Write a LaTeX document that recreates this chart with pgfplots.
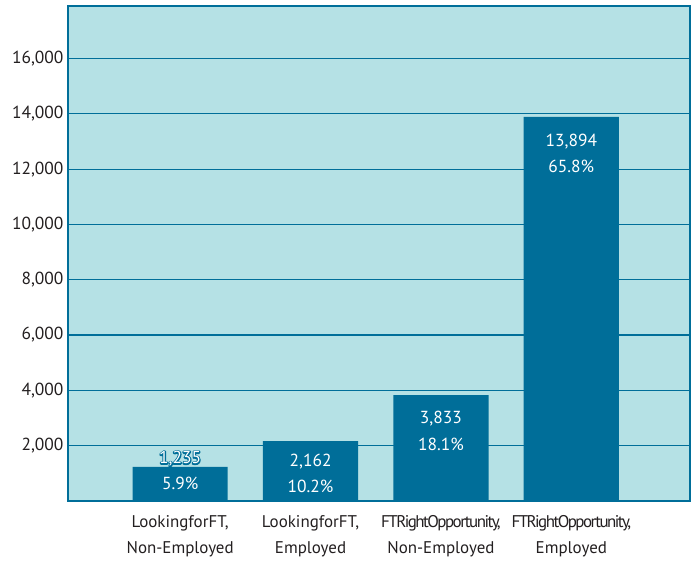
\documentclass[border=0pt]{standalone}
\usepackage{fontspec}
\setmainfont{PT Sans}
\usepackage{pgfplots}
\pgfplotsset{compat=1.18}
\usetikzlibrary{calc}
\definecolor{bg}{RGB}{181,225,229}
\definecolor{barc}{RGB}{0,110,153}
\definecolor{txt}{RGB}{35,31,32}
\newcommand{\outlined}[1]{{\color{barc}\special{pdf:literal direct 0 0.431 0.6 RG 2.4 w 1 j 1 Tr}\rlap{#1}\special{pdf:literal direct 0 Tr}}{\color{white}#1}}
\newcommand{\tight}[1]{{\addfontfeature{LetterSpace=-9}#1}}
\begin{document}
\begin{tikzpicture}
\begin{axis}[
  scale only axis, width=622bp, height=495bp,
  xmin=-0.86, xmax=3.91, ymin=0, ymax=17900,
  axis background/.style={fill=bg},
  axis line style={draw=barc, line width=2.6bp},
  ytick={2000,4000,...,16000},
  ymajorgrids, grid style={draw=barc, line width=1.2bp},
  major tick length=0pt,
  xtick={0,1,2,3},
  xticklabels={{LookingforFT,\\Non-Employed},{LookingforFT,\\Employed},{\tight{FTRightOpportunity,}\\Non-Employed},{\tight{FTRightOpportunity,}\\Employed}},
  xticklabel style={align=center, font=\fontsize{17}{26}\selectfont, text=txt, yshift=-11bp},
  yticklabel style={font=\fontsize{17.5}{20}\selectfont, text=txt, xshift=-1bp},
  /pgf/number format/assume math mode=true,
  /pgf/number format/1000 sep={,},
  scaled y ticks=false,
  clip=false,
]
\addplot[ybar, bar width=0.73, fill=barc, draw=none] coordinates {(0,1235) (1,2162) (2,3833) (3,13894)};
\node[font=\fontsize{17.5}{20}\selectfont, text=white] at (axis cs:0,1235) [yshift=8bp] {\outlined{1,235}};
\node[font=\fontsize{17.5}{20}\selectfont, text=white] at (axis cs:0,1235) [yshift=-17bp] {5.9\%};
\node[font=\fontsize{17.5}{20}\selectfont, text=white] at (axis cs:1,2162) [yshift=-20bp] {2,162};
\node[font=\fontsize{17.5}{20}\selectfont, text=white] at (axis cs:1,2162) [yshift=-45bp] {10.2\%};
\node[font=\fontsize{17.5}{20}\selectfont, text=white] at (axis cs:2,3833) [yshift=-24bp] {3,833};
\node[font=\fontsize{17.5}{20}\selectfont, text=white] at (axis cs:2,3833) [yshift=-49bp] {18.1\%};
\node[font=\fontsize{17.5}{20}\selectfont, text=white] at (axis cs:3,13894) [yshift=-25bp] {13,894};
\node[font=\fontsize{17.5}{20}\selectfont, text=white] at (axis cs:3,13894) [yshift=-50bp] {65.8\%};
\end{axis}
\path[use as bounding box] ($(current axis.south west)+(-68bp,-60bp)$) rectangle ($(current axis.north east)+(4bp,6bp)$);
\end{tikzpicture}
\end{document}
